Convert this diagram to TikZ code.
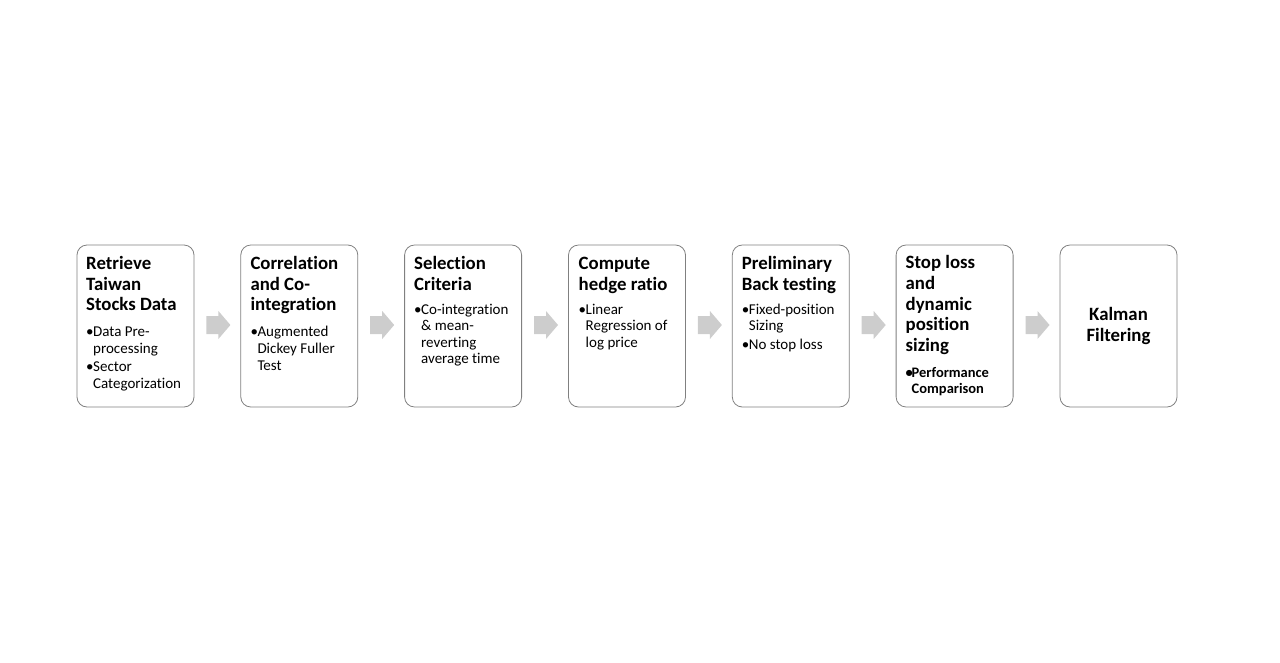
\documentclass[tikz,border=0pt]{standalone}
\usepackage{fontspec}
\setmainfont{Carlito}[Ligatures={NoCommon,NoContextual}]
\usetikzlibrary{calc}
\definecolor{arrowgray}{RGB}{205,205,205}
\definecolor{boxgray}{RGB}{128,128,128}
\newcommand\ttl[1]{{\fontsize{18.8}{20.8}\selectfont\bfseries #1\par}}
\newcommand\bul[1]{{\fontsize{15}{16.6}\selectfont\hangindent=7pt\hangafter=1 \makebox[7pt][l]{•}#1\par}}
\newcommand\bbul[1]{{\fontsize{14.5}{15.7}\selectfont\bfseries\hangindent=6pt\hangafter=1 \makebox[6pt][l]{•}#1\par}}
\newcommand\blk[1]{\vtop{\hsize=140pt\parindent=0pt\hyphenpenalty=10000\rightskip=0pt plus 1fil\relax #1}}
\begin{document}
\begin{tikzpicture}[x=1pt,y=-1pt,
  flowbox/.style={draw=boxgray,line width=0.8pt,rounded corners=10pt,minimum width=117pt,minimum height=162pt,inner sep=0pt},
  txt/.style={anchor=base west,inner sep=0pt},
  arr/.style={fill=arrowgray,draw=none}]
\useasboundingbox (0,0) rectangle (1280,662);
\foreach \i/\x in {1/135.5,2/299.3,3/463.1,4/627.0,5/790.8,6/954.6,7/1118.5}{
  \node[flowbox] (b\i) at (\x,326) {};
}
% texts
\node[txt] (t1) at (86,269.3) {\blk{\ttl{Retrieve\\Taiwan\\Stocks Data}\vskip 9.4pt
  \bul{Data Pre-\\processing}\vskip 1.8pt\bul{Sector\\Categorization}}};
\node[txt] (t2) at (250.3,269.3) {\blk{\ttl{Correlation\\and Co-\\integration}\vskip 9.4pt
  \bul{Augmented\\Dickey Fuller\\Test}}};
\node[txt] (t3) at (414,269.3) {\blk{\ttl{Selection\\Criteria}\vskip 7.4pt
  \bul{Co-integration\\\&~mean-\\reverting\\average time}}};
\node[txt] (t4) at (578.5,269.3) {\blk{\ttl{Compute\\hedge ratio}\vskip 7.4pt
  \bul{Linear\\Regression of\\log price}}};
\node[txt] (t5) at (741.7,269.3) {\blk{\ttl{Preliminary\\Back testing}\vskip 7.4pt
  \bul{Fixed-position\\Sizing}\vskip 2.4pt\bul{No stop loss}}};
\node[txt] (t6) at (905.5,268.5) {\blk{\ttl{Stop loss\\and\\dynamic\\position\\sizing}\vskip 10.3pt
  \bbul{Performance\\Comparison}}};
\node[anchor=base,inner sep=0pt] (t7) at (1118.5,320.7) {\vtop{\hsize=110pt\parindent=0pt\centering\fontsize{18.8}{20.8}\selectfont\bfseries Kalman\\Filtering\par}};
% arrows
\foreach \i in {1,...,6}{
  \fill[arr] ($(b\i.east)+(12,-10)$) -- ++(12,0) -- ++(0,-5) -- ++(12,14) -- ++(-12,14) -- ++(0,-5) -- ++(-12,0) -- cycle;
}
\end{tikzpicture}
\end{document}
